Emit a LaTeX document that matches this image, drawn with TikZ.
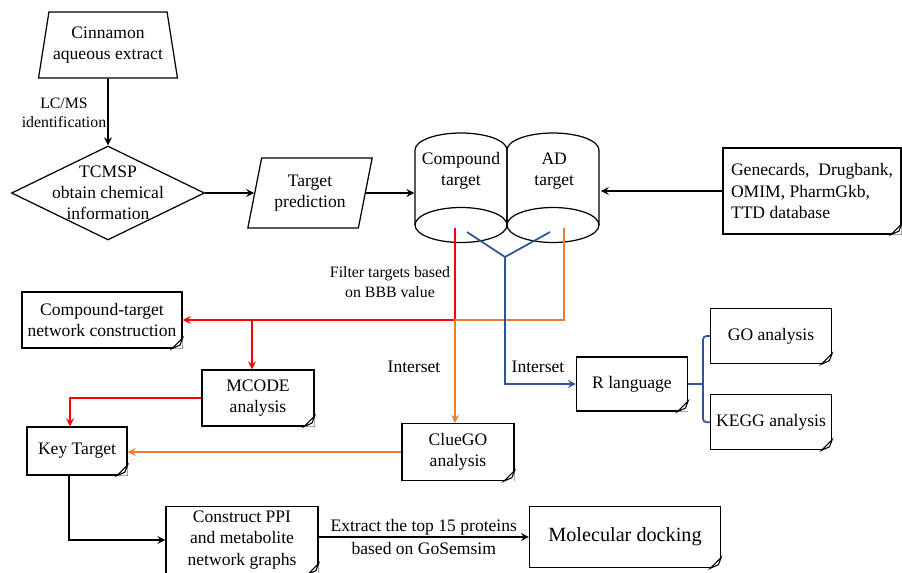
\documentclass[tikz,border=0pt]{standalone}
\usepackage{fontspec}
\setmainfont{Liberation Serif}
\usetikzlibrary{arrows, shapes.geometric, positioning}

\definecolor{lred}{RGB}{255,0,0}
\definecolor{lorange}{RGB}{237,125,49}
\definecolor{lblue}{RGB}{47,85,151}

\begin{document}
\begin{tikzpicture}[> = stealth, % arrow head style
        x = 0.02cm, y = -0.02cm, % one unit is one pixel of the sketch
        line width = 0.7pt % line style
    ]

    \tikzstyle{note}=[draw, rectangle, align = center, inner sep = 1pt]
    \tikzstyle{lbl}=[font = \small, align = center, inner sep = 1pt]
    \tikzstyle{link}=[->, line width = 1pt]

    \useasboundingbox (0,0) rectangle (902,572);

    % top row
    \node (1) [draw, trapezium, trapezium left angle = 76, trapezium right angle = 76,
        trapezium stretches = true, minimum width = 2.8cm, minimum height = 1.32cm,
        align = center, inner sep = 1pt] at (108,45) {Cinnamon\\aqueous extract};
    \node (2) [draw, diamond, minimum width = 3.86cm, minimum height = 1.88cm, inner sep = 0pt,
        label = {[align = center]center:TCMSP\\obtain chemical\\information}] at (108,193) {};
    \node (3) [draw, trapezium, trapezium left angle = 75, trapezium right angle = 105,
        trapezium stretches = true, minimum width = 2.5cm, minimum height = 1.4cm,
        align = center, inner sep = 1pt] at (310,193) {Target\\prediction};
    \node (4) [align = center, inner sep = 0pt, minimum width = 1.84cm] at (461,171) {Compound\\target};
    \node (5) [align = center, inner sep = 0pt, minimum width = 1.84cm, right = 0pt of 4] {AD\\target};
    \node (6) [note, align = left, minimum width = 3.56cm, minimum height = 1.72cm] at (812,191)
        {Genecards,~ Drugbank,\\OMIM, PharmGkb,\\TTD database};

    % the two cylinders
    \foreach \cx in {461,553} {
        \draw (\cx-46,225) -- (\cx-46,150) arc[start angle = 180, end angle = 0,
            x radius = 0.92cm, y radius = 0.34cm] -- (\cx+46,225);
        \draw (\cx,225) ellipse [x radius = 0.92cm, y radius = 0.35cm];
    }

    % middle and bottom
    \node (7) [note, minimum width = 3.2cm, minimum height = 1.12cm] at (102,320)
        {Compound-target\\network construction};
    \node (8) [note, minimum width = 2.24cm, minimum height = 1.12cm] at (258,398) {MCODE\\analysis};
    \node (9) [note, minimum width = 2.0cm, minimum height = 0.96cm] at (77,451) {Key Target};
    \node (10) [note, minimum width = 2.24cm, minimum height = 1.14cm] at (458,452) {ClueGO\\analysis};
    \node (11) [note, minimum width = 2.22cm, minimum height = 1.08cm] at (632,384) {R language};
    \node (12) [note, minimum width = 2.42cm, minimum height = 1.1cm] at (771,336) {GO analysis};
    \node (13) [note, minimum width = 2.42cm, minimum height = 1.1cm, below = 0.6cm of 12] {KEGG analysis};
    \node (14) [note, minimum width = 3.04cm, minimum height = 1.34cm] at (242,540)
        {Construct PPI\\and metabolite\\network graphs};
    \node (15) [note, minimum width = 3.82cm, minimum height = 1.22cm,
        font = \fontsize{11.5}{14}\selectfont] at (625,537) {Molecular docking};

    % folded corners of the notes
    \foreach \n in {6,...,15} {
        \fill[white] ([xshift = -6pt]\n.south east) -- (\n.south east)
            -- ([yshift = 6pt]\n.south east) -- cycle;
        \draw[line width = 0.6pt] ([xshift = -6pt]\n.south east) -- ([yshift = 6pt]\n.south east)
            -- ([shift = {(-1.5pt,2pt)}]\n.south east) -- cycle;
    }

    % labels
    \node (lcms) [lbl] at (64,113) {LC/MS\\identification};
    \node (bbb) [lbl] at (390,282) {Filter targets based\\on BBB value};
    \node (int1) [align = center] at (414,367) {Interset};
    \node (int2) [align = center] at (538,367) {Interset};

    % black arrows
    \path[link] (1) edge (2); \path[link] (2) edge (3);
    \draw[link] (3.east) -- (3.east -| 4.west);
    \draw[link] (6.west) -- (6.west -| 5.east);
    \draw[link] ([xshift = -0.16cm]9.south) |- (14.west);
    \draw[link] (14.east |- 15.west) -- (15.west)
        node[midway, above = -3pt] {Extract the top 15 proteins}
        node[midway, below = -1pt] {based on GoSemsim};

    % red lines
    \coordinate (r0) at (455,228);
    \coordinate (cross) at (r0 |- 7.east);
    \coordinate (rb) at (252,320);
    \draw[link, lred] (r0) -- (cross) -- (7.east);
    \draw[link, lred] (rb) -- (rb |- 8.north);
    \draw[link, lred] (8.west) -| ([xshift = -0.14cm]9.north);

    % orange lines
    \coordinate (o0) at (564,228);
    \draw[link, lorange] (o0) |- (cross) -- (cross |- 10.north);
    \draw[link, lorange] (10.west) -- (10.west -| 9.east);

    % blue lines
    \coordinate (b1) at (467,232); \coordinate (b2) at (550,232);
    \coordinate (bj) at (505,257); \coordinate (bk) at (703,384);
    \draw[line width = 1pt, lblue] (b1) -- (bj) -- (b2);
    \draw[link, lblue] (bj) |- (11.west);
    \draw[line width = 1pt, lblue] (11.east) -- (bk);
    \draw[line width = 1pt, lblue, rounded corners = 2pt] (12.west) -| (bk) |- (13.west);
\end{tikzpicture}
\end{document}
